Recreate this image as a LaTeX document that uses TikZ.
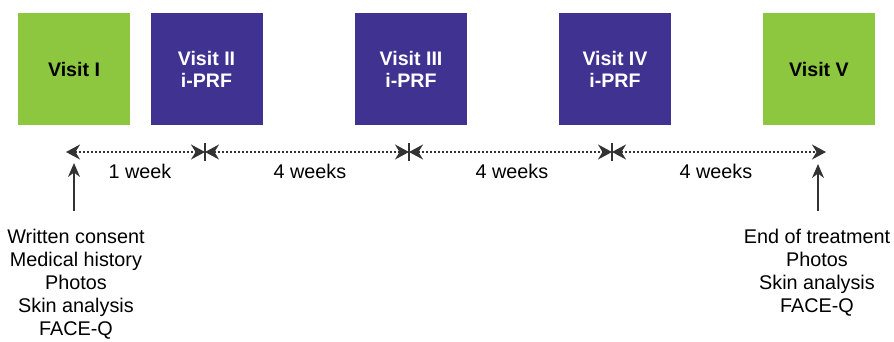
\documentclass[tikz,border=0pt]{standalone}
\usepackage{fontspec}
\setmainfont{Liberation Sans}
\usetikzlibrary{arrows.meta}
\definecolor{visitgreen}{HTML}{8DC63F}
\definecolor{visitpurple}{HTML}{3F3291}
\definecolor{linegray}{HTML}{333333}
\begin{document}
\begin{tikzpicture}[x=1pt, y=-1pt,
    visit/.style={minimum width=112pt, minimum height=112pt, inner sep=0pt,
        align=center, text=black, font=\bfseries\fontsize{19.6}{22}\selectfont},
    gap/.style={linegray, line width=1.8pt, dash pattern=on 2pt off 2pt,
        {Stealth[length=14pt, width=15pt, sep=0pt]}-{Stealth[length=14pt, width=15pt]}},
    spanlabel/.style={font=\fontsize{19.8}{22}\selectfont},
    info/.style={align=center, font=\fontsize{19.8}{23}\selectfont},
    pointer/.style={linegray, line width=1.8pt, -{Stealth[length=14pt, width=12pt]}}]
    \useasboundingbox (0,0) rectangle (894,341);

    % Visit boxes
    \node[visit, fill=visitgreen] (v1) at (74, 69) {Visit I};
    \node[visit, fill=visitpurple, text=white] (v2) at (206.5, 69) {Visit II\\i-PRF};
    \node[visit, fill=visitpurple, text=white] (v3) at (411, 69) {Visit III\\i-PRF};
    \node[visit, fill=visitpurple, text=white] (v4) at (615, 69) {Visit IV\\i-PRF};
    \node[visit, fill=visitgreen] (v5) at (819, 69) {Visit V};

    % Timeline
    \coordinate (t0) at (66, 152);
    \coordinate (t1) at (205, 152);
    \coordinate (t2) at (409, 152);
    \coordinate (t3) at (612, 152);
    \coordinate (t4) at (826, 152);
    \foreach \a/\b in {t0/t1, t1/t2, t2/t3, t3/t4} {
        \draw[gap] (\a) -- (\b);
    }
    \foreach \t in {t1, t2, t3} {
        \draw[linegray, line width=1.3pt] ([yshift=-9pt]\t) -- ([yshift=9pt]\t);
    }

    % Intervals
    \node[spanlabel] (w1) at (140, 171) {1 week};
    \node[spanlabel] (w2) at (310, 171) {4 weeks};
    \node[spanlabel] (w3) at (512, 171) {4 weeks};
    \node[spanlabel] (w4) at (716, 171) {4 weeks};

    % Notes
    \node[info] (n1) at (76, 284) {Written consent\\Medical history\\Photos\\Skin analysis\\FACE-Q};
    \node[info] (n5) at (817, 272.5) {End of treatment\\Photos\\Skin analysis\\FACE-Q};
    \coordinate (p1) at (74, 211);
    \coordinate (q1) at (74, 163);
    \coordinate (p5) at (818, 211);
    \coordinate (q5) at (818, 164);
    \draw[pointer] (p1) -- (q1);
    \draw[pointer] (p5) -- (q5);
\end{tikzpicture}
\end{document}
